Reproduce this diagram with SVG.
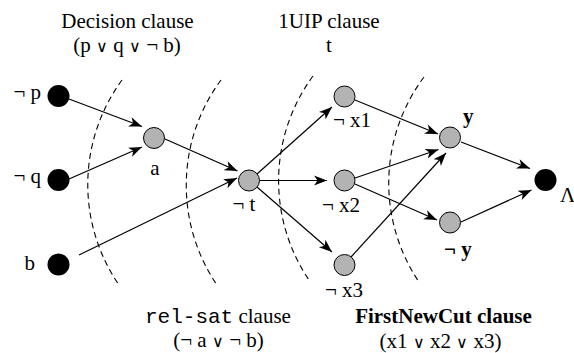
<svg xmlns="http://www.w3.org/2000/svg" width="574" height="353" viewBox="0 0 574 353">
<defs>
<marker id="arr" markerUnits="userSpaceOnUse" markerWidth="14" markerHeight="11" refX="13" refY="5" orient="auto" overflow="visible">
<path d="M0,0 L13,5 L0,10 L3.5,5 z" fill="#000"/>
</marker>
<style>
text{font-family:"Liberation Serif","Times New Roman",serif;font-size:21px;fill:#000}
.b{font-weight:bold}
.m{font-family:"Liberation Mono","Courier New",monospace}
.or{font-family:"DejaVu Sans",sans-serif;font-weight:200;font-size:16px}
.dk{fill:#000}
.gr{fill:#b3b3b3;stroke:#000;stroke-width:1}
.e{stroke:#000;stroke-width:1.2;fill:none;marker-end:url(#arr)}
.cut{stroke:#000;stroke-width:1.1;fill:none;stroke-dasharray:6,4}
</style>
</defs>
<rect width="574" height="353" fill="#fff"/>
<g id="cuts">
<path class="cut" d="M122,80 A177,177 0 0 0 119,285"/>
<path class="cut" d="M221,80 A177,177 0 0 0 217,285"/>
<path class="cut" d="M313,76 A177,177 0 0 0 309,280"/>
<path class="cut" d="M424,77 A177,177 0 0 0 419,282"/>
</g>
<g id="connectors">
<line class="e" x1="69" y1="99" x2="142" y2="126.5"/>
<line class="e" x1="69" y1="179" x2="142" y2="147"/>
<line class="e" x1="165" y1="139" x2="237.5" y2="171"/>
<line class="e" x1="79" y1="255" x2="237" y2="178"/>
<line class="e" x1="257" y1="174" x2="332" y2="107"/>
<line class="e" x1="260" y1="180.5" x2="327" y2="180.5"/>
<line class="e" x1="257" y1="187" x2="332" y2="252"/>
<line class="e" x1="355" y1="100" x2="438" y2="134"/>
<line class="e" x1="355" y1="178" x2="438.5" y2="149.5"/>
<line class="e" x1="351" y1="257" x2="446" y2="153"/>
<line class="e" x1="355" y1="184" x2="437" y2="220"/>
<line class="e" x1="461" y1="142" x2="530" y2="168.5"/>
<line class="e" x1="461" y1="222" x2="531.5" y2="190"/>
</g>
<g id="n_not_p"><circle class="dk" cx="58.5" cy="96" r="11"/><text x="41" y="99" text-anchor="end">¬ p</text></g>
<g id="n_not_q"><circle class="dk" cx="58.5" cy="180" r="11"/><text x="41" y="183" text-anchor="end">¬ q</text></g>
<g id="n_b"><circle class="dk" cx="58.5" cy="264.5" r="11"/><text x="35" y="270" text-anchor="end">b</text></g>
<g id="n_a"><circle class="gr" cx="154" cy="138" r="10.5"/><text x="155" y="175" text-anchor="middle">a</text></g>
<g id="n_not_t"><circle class="gr" cx="249" cy="180.5" r="10.5"/><text x="244" y="211" text-anchor="middle">¬ t</text></g>
<g id="n_not_x1"><circle class="gr" cx="344.5" cy="96.5" r="10.5"/><text x="333" y="127">¬ x1</text></g>
<g id="n_not_x2"><circle class="gr" cx="344.5" cy="180.5" r="10.5"/><text x="322" y="212">¬ x2</text></g>
<g id="n_not_x3"><circle class="gr" cx="344.5" cy="265" r="10.5"/><text x="325" y="297">¬ x3</text></g>
<g id="n_y"><circle class="gr" cx="450" cy="137.5" r="10.5"/><text class="b" x="463" y="123">y</text></g>
<g id="n_not_y"><circle class="gr" cx="450" cy="222.5" r="10.5"/><text class="b" x="444" y="256">¬ y</text></g>
<g id="n_lambda"><circle class="dk" cx="545.5" cy="180" r="11"/><text x="560" y="202">Λ</text></g>
<g id="labels">
<text x="127.5" y="28" text-anchor="middle">Decision clause</text>
<text x="127" y="52" text-anchor="middle">(p <tspan class="or">∨</tspan> q <tspan class="or">∨</tspan> ¬ b)</text>
<text x="329" y="28" text-anchor="middle">1UIP clause</text>
<text x="329" y="52" text-anchor="middle">t</text>
<text x="145" y="323"><tspan class="m">rel-sat</tspan> clause</text>
<text x="218.5" y="347" text-anchor="middle">(¬ a <tspan class="or">∨</tspan> ¬ b)</text>
<text class="b" x="443.5" y="323" text-anchor="middle">FirstNewCut clause</text>
<text x="440.5" y="347.5" text-anchor="middle">(x1 <tspan class="or">∨</tspan> x2 <tspan class="or">∨</tspan> x3)</text>
</g>
</svg>
